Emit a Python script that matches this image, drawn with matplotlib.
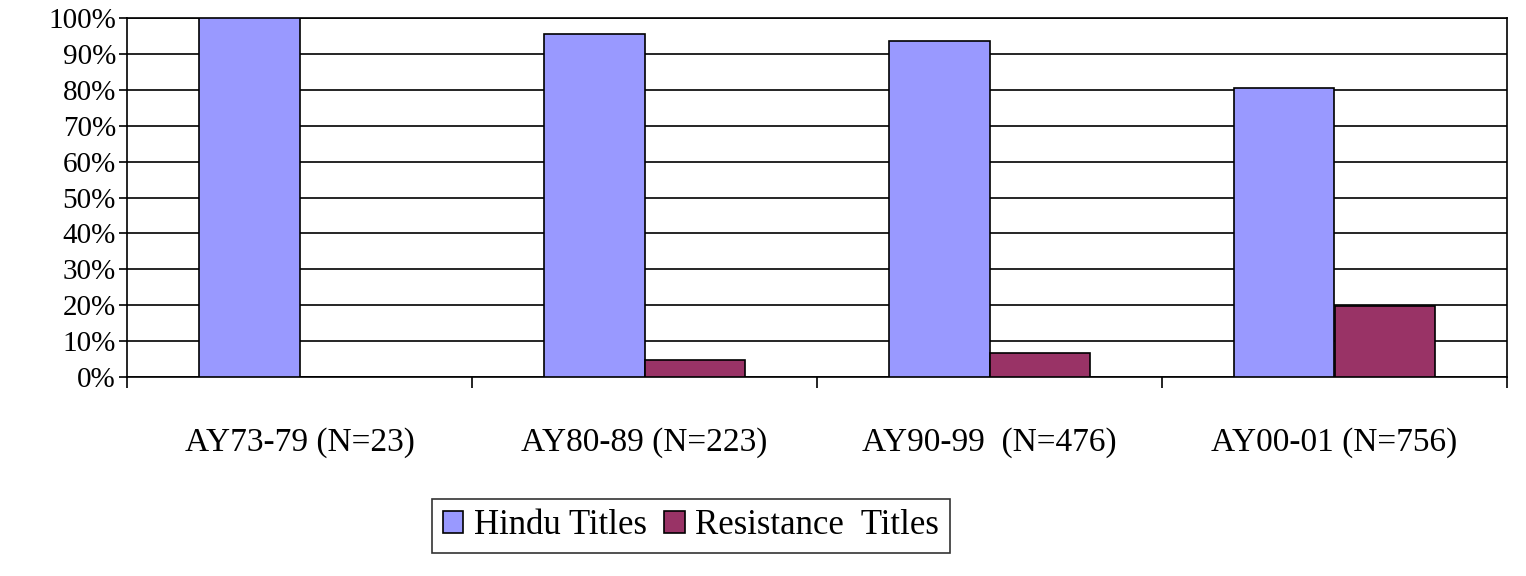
import matplotlib
matplotlib.use("Agg")
import matplotlib.pyplot as plt
import numpy as np
from matplotlib.ticker import FixedLocator

categories = ["AY73-79 (N=23)", "AY80-89 (N=223)", "AY90-99  (N=476)", "AY00-01 (N=756)"]
hindu = [100, 95.5, 93.6, 80.6]
resistance = [0, 4.7, 6.7, 19.8]
yticks = list(range(0, 101, 10))

plt.rcParams['font.family'] = ['Liberation Serif', 'DejaVu Serif']
fig = plt.figure(figsize=(15.26, 5.76), dpi=100)
ax = fig.add_axes([127/1526, 1-377/576, 1380/1526, 359/576])
x = np.arange(len(categories))
w = 0.29
ax.bar(x - w/2, hindu, w, color='#9999FF', edgecolor='black', linewidth=1.2, label='Hindu Titles', zorder=3)
ax.bar(x + w/2, resistance, w, color='#993366', edgecolor='black', linewidth=1.2, label='Resistance  Titles', zorder=3)
ax.set_xlim(-0.5, len(categories) - 0.5)
ax.set_ylim(0, 100)
ax.set_yticks(yticks)
ax.set_yticklabels([f"{v}%" for v in yticks], fontsize=21)
ax.yaxis.grid(True, color='black', linewidth=1.2, zorder=0)
ax.set_xticks(x)
ax.set_xticklabels(categories, fontsize=24)
ax.xaxis.set_minor_locator(FixedLocator(np.arange(-0.5, len(categories), 1.0)))
ax.tick_params(axis='x', which='major', length=0, pad=36)
ax.tick_params(axis='x', which='minor', length=8, width=1.2, direction='out')
ax.tick_params(axis='y', length=6, width=1.2, direction='out', pad=2)
for s in ax.spines.values():
    s.set_linewidth(1.2)
leg = fig.legend(loc='center', bbox_to_anchor=(691/1526, 1-526/576), ncol=2, fontsize=25,
                 frameon=True, fancybox=False, edgecolor='black', handlelength=0.6,
                 handleheight=0.6, columnspacing=0.5, handletextpad=0.3, borderpad=0.3)
leg.get_frame().set_linewidth(1.2)
fig.savefig("out.png", dpi=100)
